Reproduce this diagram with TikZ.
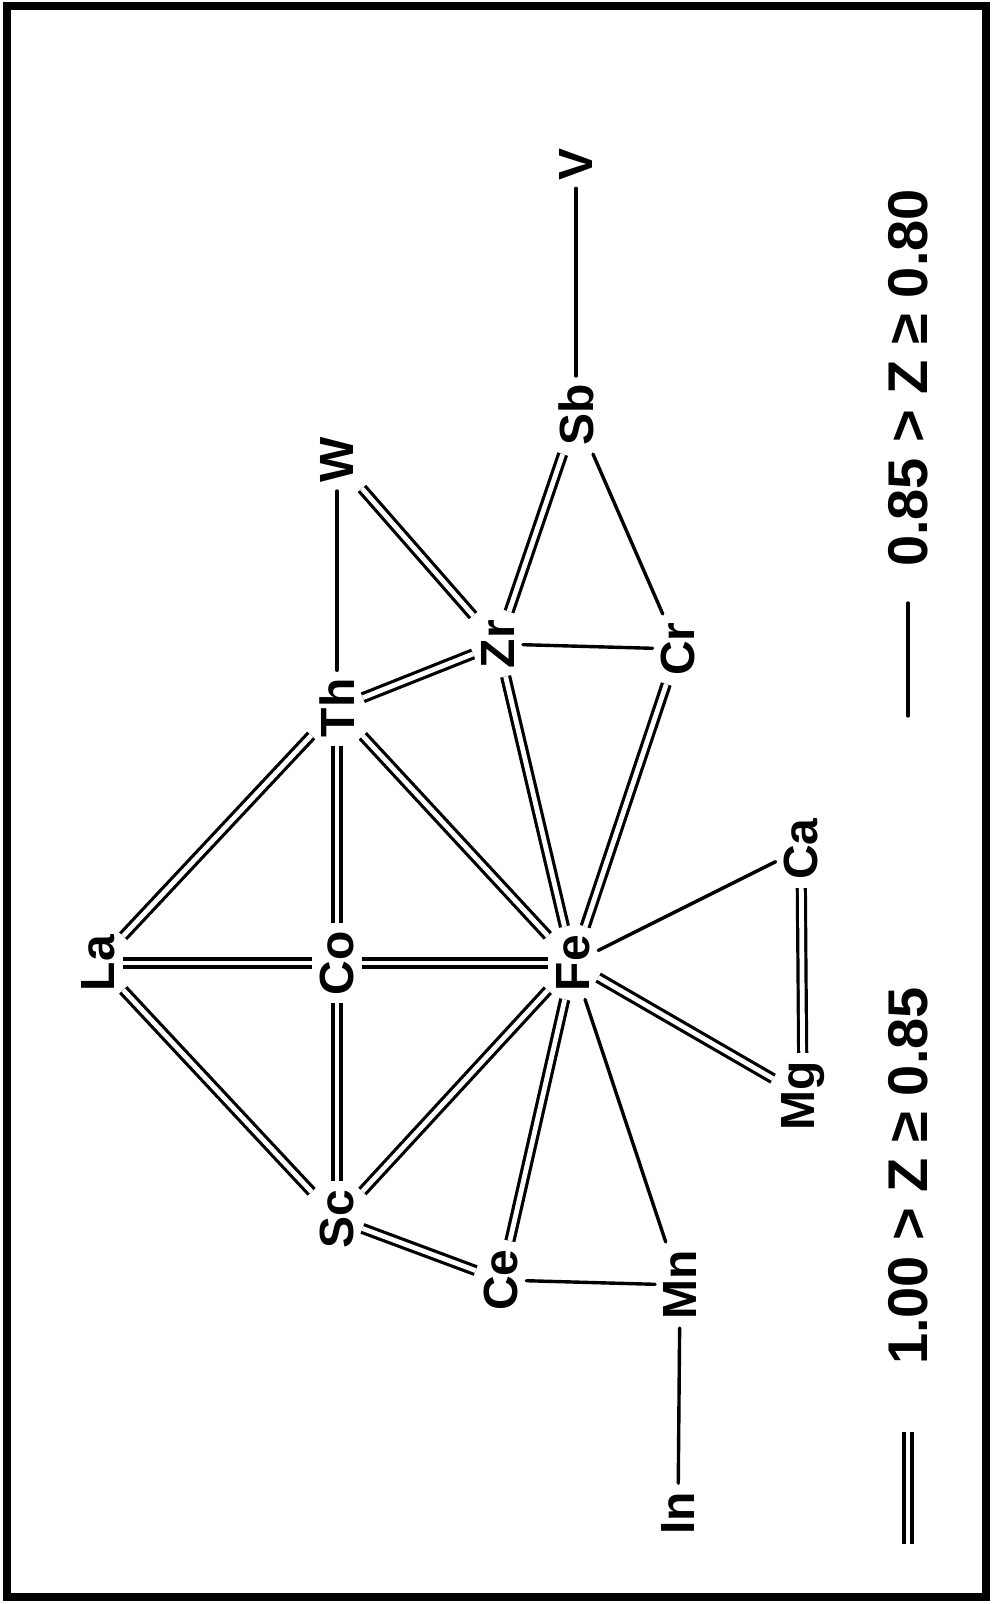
\documentclass[tikz,border=0pt]{standalone}
\usepackage{fontspec}
\setmainfont{Liberation Sans}
\usetikzlibrary{calc}

\begin{document}
\begin{tikzpicture}[x=0.5pt, y=-0.5pt,
	e/.style={rectangle, rotate=90, inner sep=4pt, font=\fontsize{24}{28}\selectfont\bfseries},
	sl/.style={line width=1.7pt, line cap=round},
	dl/.style={double, line width=1.6pt, double distance=2.4pt},
	key/.style={rectangle, rotate=90, inner sep=0pt, font=\fontsize{28}{32}\selectfont\bfseries},
	]
	\useasboundingbox (0,0) rectangle (992,1604);
	\draw[line width=4pt] (7,6) rectangle (986,1597);
	
	%Nodes
	\node[e]    (V)     at (576,164)    {V};
	\node[e]    (Sb)    at (576,415)    {Sb};
	\node[e]    (W)     at (337,460)    {W};
	\node[e]    (Zr)    at (498,644)    {Zr};
	\node[e]    (Cr)    at (678,649)    {Cr};
	\node[e]    (Th)    at (337,708)    {Th};
	\node[e]    (La)    at (98,963)     {La};
	\node[e]    (Co)    at (337,963)    {Co};
	\node[e]    (Fe)    at (573,963)    {Fe};
	\node[e]    (Ca)    at (801,849)    {Ca};
	\node[e]    (Mg)    at (803,1096)   {Mg};
	\node[e]    (Sc)    at (337,1219)   {Sc};
	\node[e]    (Ce)    at (501,1280)   {Ce};
	\node[e]    (Mn)    at (680,1285)   {Mn};
	\node[e]    (In)    at (678,1513)   {In};
	
	%Lines
	\draw[sl] (V)  -- (Sb);
	\draw[dl] (Sb) -- (Zr);
	\draw[sl] (Sb) -- (Cr);
	\draw[sl] (W)  -- (Th);
	\draw[dl] (W)  -- (Zr);
	\draw[dl] (Th) -- (Zr);
	\draw[sl] (Zr) -- (Cr);
	\draw[dl] (Zr) -- (Fe);
	\draw[dl] (Cr) -- (Fe);
	\draw[dl] (Th) -- (La);
	\draw[dl] (Th) -- (Co);
	\draw[dl] (Th) -- (Fe);
	\draw[dl] (La) -- (Co);
	\draw[dl] (Co) -- (Fe);
	\draw[dl] (La) -- (Sc);
	\draw[dl] (Co) -- (Sc);
	\draw[dl] (Sc) -- (Fe);
	\draw[dl] (Sc) -- (Ce);
	\draw[dl] (Ce) -- (Fe);
	\draw[sl] (Fe) -- (Ca);
	\draw[dl] (Fe) -- (Mg);
	\draw[dl] (Ca) -- (Mg);
	\draw[sl] (Fe) -- (Mn);
	\draw[sl] (Ce) -- (Mn);
	\draw[sl] (Mn) -- (In);
	
	%Key
	\coordinate (s1) at (908,716);
	\coordinate (s2) at (908,603);
	\draw[sl] (s1) -- (s2);
	\node[key]  (k1)    at (908,378)    {0.85 > Z ≥ 0.80};
	\coordinate (d1) at (908,1544);
	\coordinate (d2) at (908,1432);
	\draw[dl] (d1) -- (d2);
	\node[key]  (k2)    at (908,1176)   {1.00 > Z ≥ 0.85};
\end{tikzpicture}
\end{document}
